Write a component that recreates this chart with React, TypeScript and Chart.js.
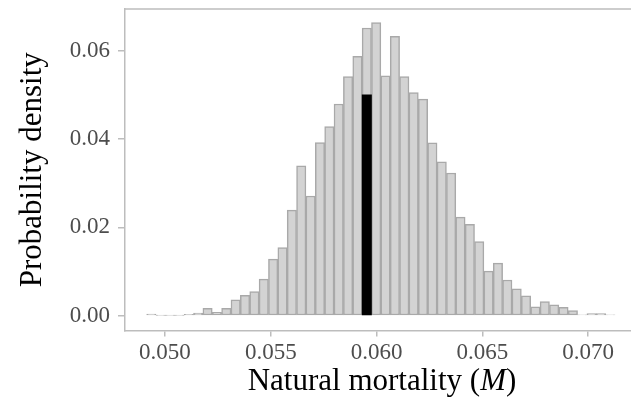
import { useEffect, useRef } from "react";
import { Chart, registerables } from "chart.js";

Chart.register(...registerables);

// histogram bins of natural mortality (bin centres) and their density
const binCentres = [
  0.0493564, 0.0497992, 0.050242, 0.0506848, 0.0511276, 0.0515704, 0.0520132, 0.052456, 0.0528988, 0.0533416,
  0.0537844, 0.0542272, 0.05467, 0.0551128, 0.0555556, 0.0559984, 0.0564412, 0.056884, 0.0573268, 0.0577696,
  0.0582124, 0.0586552, 0.059098, 0.0595408, 0.0599836, 0.0604264, 0.0608692, 0.061312, 0.0617548, 0.0621976,
  0.0626404, 0.0630832, 0.063526, 0.0639688, 0.0644116, 0.0648544, 0.0652972, 0.06574, 0.0661828, 0.0666256,
  0.0670684, 0.0675112, 0.067954, 0.0683968, 0.0688396, 0.0692824, 0.0697252, 0.070168, 0.0706108, 0.0710536,
];
const density = [
  0.0004, 0.0001, 0.0001, 0.0001, 0.0003, 0.0006, 0.0017, 0.0008, 0.0017, 0.0036,
  0.0046, 0.0055, 0.0083, 0.0128, 0.0154, 0.0239, 0.0339, 0.0271, 0.0392, 0.0428,
  0.0479, 0.0541, 0.0587, 0.0651, 0.0663, 0.0543, 0.0632, 0.0541, 0.0505, 0.049,
  0.0391, 0.0348, 0.0323, 0.0223, 0.0207, 0.0168, 0.0101, 0.0119, 0.0081, 0.0061,
  0.0045, 0.002, 0.0032, 0.0025, 0.0019, 0.0012, 0.0002, 0.0005, 0.0005, 0.0002,
];
// point estimate, drawn as the black bar
const estimateM = 0.0595408;
const estimateHeight = 0.05;

const xTicks = [0.05, 0.055, 0.06, 0.065, 0.07];
const yTicks = [0, 0.02, 0.04, 0.06];

const axisGrey = "#bdbdbd";
const labelGrey = "#4d4d4d";
const serif = "'Liberation Serif', 'Times New Roman', serif";

// top edge of the panel + x title with italic M
const panelExtras = {
  id: "panelExtras",
  afterDraw(chart: Chart) {
    const { ctx, chartArea } = chart;
    ctx.save();
    ctx.strokeStyle = axisGrey;
    ctx.lineWidth = 1.5;
    ctx.beginPath();
    ctx.moveTo(chartArea.left, chartArea.top);
    ctx.lineTo(chartArea.right, chartArea.top);
    ctx.stroke();

    const parts = [
      { t: "Natural mortality (", f: `31px ${serif}` },
      { t: "M", f: `italic 31px ${serif}` },
      { t: ")", f: `31px ${serif}` },
    ];
    let total = 0;
    for (const p of parts) {
      ctx.font = p.f;
      total += ctx.measureText(p.t).width;
    }
    let x = (chartArea.left + chartArea.right) / 2 + 4 - total / 2;
    const y = chart.height - 15;
    ctx.fillStyle = "#000";
    ctx.textBaseline = "alphabetic";
    ctx.textAlign = "left";
    for (const p of parts) {
      ctx.font = p.f;
      ctx.fillText(p.t, x, y);
      x += ctx.measureText(p.t).width;
    }
    ctx.restore();
  },
};

export default function App() {
  const canvasRef = useRef<HTMLCanvasElement>(null);

  useEffect(() => {
    const canvas = canvasRef.current;
    if (!canvas) return;

    Chart.defaults.font.family = serif;

    const chart = new Chart(canvas.getContext("2d")!, {
      type: "bar",
      data: {
        datasets: [
          {
            label: "Estimate",
            data: [{ x: estimateM, y: estimateHeight }],
            backgroundColor: "#000000",
            borderWidth: 0,
          },
          {
            label: "Posterior",
            data: binCentres.map((x, i) => ({ x, y: density[i] })),
            backgroundColor: "#d3d3d3",
            borderColor: "#a9a9a9",
            borderWidth: 1.5,
            borderSkipped: false,
          },
        ],
      },
      options: {
        animation: false,
        responsive: true,
        maintainAspectRatio: false,
        datasets: { bar: { grouped: false, barPercentage: 1, categoryPercentage: 1 } },
        layout: { padding: { left: 0, right: 0, top: 9, bottom: 0 } },
        plugins: { legend: { display: false }, tooltip: { enabled: false } },
        scales: {
          x: {
            type: "linear",
            min: 0.04811,
            max: 0.07203,
            offset: false,
            afterBuildTicks: (s) => {
              s.ticks = xTicks.map((v) => ({ value: v }));
            },
            afterFit: (s) => {
              s.height = 74.5;
              s.paddingLeft = 0;
              s.paddingRight = 0;
            },
            grid: {
              display: true,
              offset: false,
              drawOnChartArea: false,
              tickLength: 6,
              color: axisGrey,
              lineWidth: 1.5,
            },
            border: { display: true, color: axisGrey, width: 1.5 },
            ticks: {
              color: labelGrey,
              font: { size: 23 },
              padding: 3,
              maxRotation: 0,
              autoSkip: false,
              callback: (v) => Number(v).toFixed(3),
            },
          },
          y: {
            type: "linear",
            min: -0.00333,
            max: 0.0694,
            afterBuildTicks: (s) => {
              s.ticks = yTicks.map((v) => ({ value: v }));
            },
            afterFit: (s) => {
              s.width = 125;
              s.paddingTop = 0;
              s.paddingBottom = 0;
            },
            grid: {
              display: true,
              drawOnChartArea: false,
              tickLength: 7,
              color: axisGrey,
              lineWidth: 1.5,
            },
            border: { display: true, color: axisGrey, width: 1.5 },
            ticks: {
              color: labelGrey,
              font: { size: 23 },
              padding: 8,
              autoSkip: false,
              callback: (v) => Number(v).toFixed(2),
            },
            title: {
              display: true,
              text: "Probability density",
              color: "#000",
              font: { size: 31 },
              padding: { top: 14, bottom: 0 },
            },
          },
        },
      },
      plugins: [panelExtras],
    });

    return () => chart.destroy();
  }, []);

  return (
    <div style={{ position: "fixed", left: 0, top: 0, width: 631, height: 405, background: "#fff" }}>
      <canvas ref={canvasRef} />
    </div>
  );
}
